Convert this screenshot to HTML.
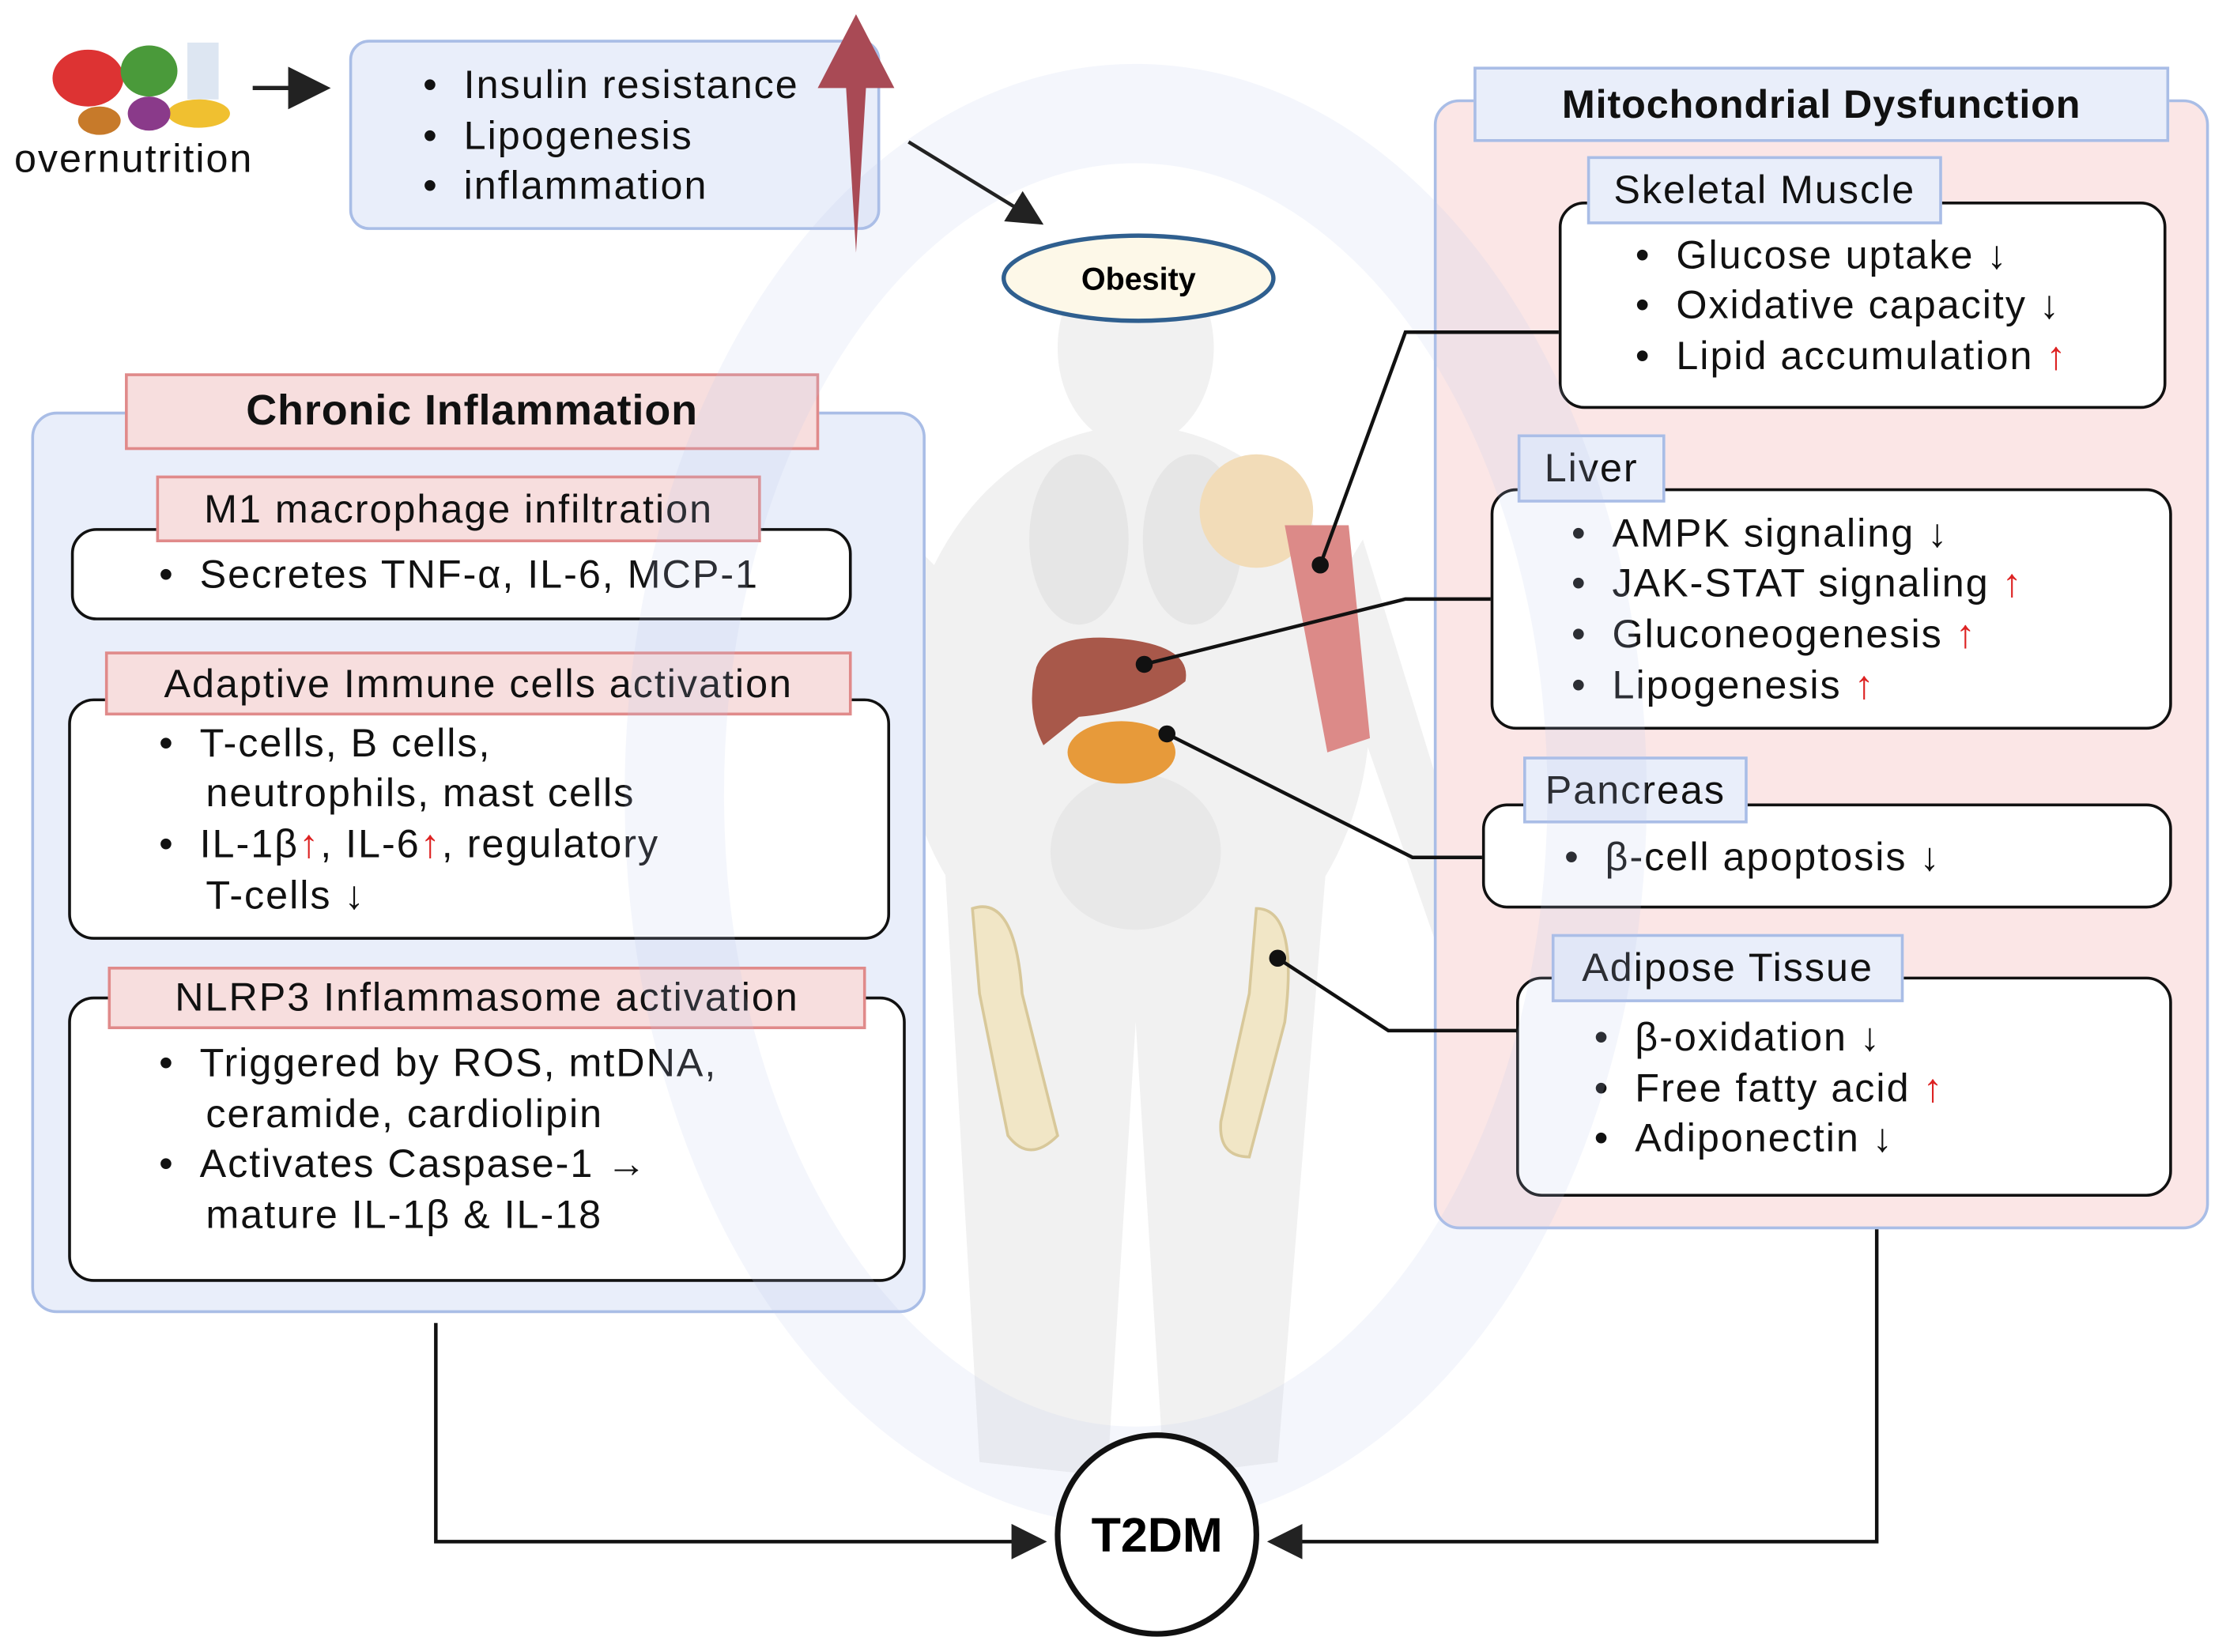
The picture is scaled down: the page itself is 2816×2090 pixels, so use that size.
<!DOCTYPE html>
<html><head><meta charset="utf-8"><style>
html,body{margin:0;padding:0;background:#fff;}
#wrap{width:1568px;height:1164px;position:relative;transform:scale(1.7959);transform-origin:0 0;font-family:"Liberation Sans",sans-serif;color:#111;}
.abs{position:absolute;box-sizing:border-box;}
.t{position:absolute;font-size:28px;white-space:nowrap;line-height:1;letter-spacing:1.1px;}
.r{color:#d22;}
.wb{position:absolute;box-sizing:border-box;background:#fff;border:2.5px solid #111;border-radius:18px;}
.pl{position:absolute;box-sizing:border-box;background:#f7dede;border:2.5px solid #e08a8a;font-size:28px;letter-spacing:1.1px;display:flex;align-items:center;justify-content:center;white-space:nowrap;}
.bl{position:absolute;box-sizing:border-box;background:#e9eefa;border:2.5px solid #a9bde6;font-size:28px;letter-spacing:1.1px;display:flex;align-items:center;justify-content:center;white-space:nowrap;}
</style></head><body><div id="wrap">
<svg class="abs" style="left:0;top:0" width="1568" height="1164">
<g fill="#f1f1f1">
<ellipse cx="800" cy="245" rx="55" ry="70"/>
<rect x="770" y="300" width="60" height="40"/>
<ellipse cx="800" cy="500" rx="165" ry="200"/>
<path d="M640,380 L600,620 L630,640 L680,420z"/>
<path d="M960,380 L1040,640 L1010,660 L930,430z"/>
<path d="M665,600 L690,1030 L780,1040 L800,720 L820,1040 L900,1030 L935,600z"/>
</g>
<ellipse cx="760" cy="380" rx="35" ry="60" fill="#e6e6e6"/><ellipse cx="840" cy="380" rx="35" ry="60" fill="#e6e6e6"/>
<ellipse cx="800" cy="600" rx="60" ry="55" fill="#e8e8e8"/>
<ellipse cx="885" cy="360" rx="40" ry="40" fill="#f2dcb8"/>
<path d="M905,370 L950,370 L965,520 L935,530z" fill="#dc8a88"/>
<path d="M730,470 Q740,445 790,450 Q840,455 835,480 Q810,500 760,505 L735,525 Q722,500 730,470z" fill="#a8584a"/>
<ellipse cx="790" cy="530" rx="38" ry="22" fill="#e79a3a"/>
<path d="M685,640 Q715,630 720,700 L745,800 Q725,820 710,800 L690,700z" fill="#f1e6c6" stroke="#d8c89a" stroke-width="2"/>
<path d="M885,640 Q915,640 905,720 L880,815 Q858,815 860,790 L880,700z" fill="#f1e6c6" stroke="#d8c89a" stroke-width="2"/>
<ellipse cx="62" cy="55" rx="25" ry="20" fill="#d33"/><ellipse cx="105" cy="50" rx="20" ry="18" fill="#4a9a3a"/>
<rect x="132" y="30" width="22" height="40" fill="#dde6f2"/><ellipse cx="70" cy="85" rx="15" ry="10" fill="#c77a2a"/>
<ellipse cx="140" cy="80" rx="22" ry="10" fill="#f0c030"/><ellipse cx="105" cy="80" rx="15" ry="12" fill="#8a3a8a"/>
</svg>
<div class="t" style="left:10px;top:98px;">overnutrition</div>
<div class="abs" style="left:246px;top:28px;width:374px;height:134px;background:#e9eefa;border:2.5px solid #a9bde6;border-radius:14px;"></div>
<div class="t" style="left:298px;top:46px;">•&nbsp;&nbsp;Insulin resistance</div>
<div class="t" style="left:298px;top:82px;">•&nbsp;&nbsp;Lipogenesis</div>
<div class="t" style="left:298px;top:117px;">•&nbsp;&nbsp;inflammation</div>

<div class="abs" style="left:22px;top:290px;width:630px;height:635px;background:#e9eefa;border:2.5px solid #a9bde6;border-radius:18px;"></div>
<div class="pl" style="left:88px;top:263px;width:489px;height:54px;font-weight:bold;font-size:30px;letter-spacing:0.5px;">Chronic Inflammation</div>
<div class="wb" style="left:50px;top:372px;width:550px;height:65px;"></div>
<div class="pl" style="left:110px;top:335px;width:426px;height:47px;">M1 macrophage infiltration</div>
<div class="t" style="left:112px;top:391px;">•&nbsp;&nbsp;Secretes TNF-α, IL-6, MCP-1</div>
<div class="wb" style="left:48px;top:492px;width:579px;height:170px;"></div>
<div class="pl" style="left:74px;top:459px;width:526px;height:45px;">Adaptive Immune cells activation</div>
<div class="t" style="left:112px;top:510px;">•&nbsp;&nbsp;T-cells, B cells,</div>
<div class="t" style="left:145px;top:545px;">neutrophils, mast cells</div>
<div class="t" style="left:112px;top:581px;">•&nbsp;&nbsp;IL-1β<span class="r">↑</span>, IL-6<span class="r">↑</span>, regulatory</div>
<div class="t" style="left:145px;top:617px;">T-cells ↓</div>
<div class="wb" style="left:48px;top:702px;width:590px;height:201px;"></div>
<div class="pl" style="left:76px;top:681px;width:534px;height:44px;">NLRP3 Inflammasome activation</div>
<div class="t" style="left:112px;top:735px;">•&nbsp;&nbsp;Triggered by ROS, mtDNA,</div>
<div class="t" style="left:145px;top:771px;">ceramide, cardiolipin</div>
<div class="t" style="left:112px;top:806px;">•&nbsp;&nbsp;Activates Caspase-1 →</div>
<div class="t" style="left:145px;top:842px;">mature IL-1β &amp; IL-18</div>

<div class="abs" style="left:1010px;top:70px;width:546px;height:796px;background:#fbe6e6;border:2.5px solid #a9bde6;border-radius:18px;"></div>
<div class="bl" style="left:1038px;top:47px;width:490px;height:53px;font-weight:bold;letter-spacing:0.5px;">Mitochondrial Dysfunction</div>
<div class="wb" style="left:1098px;top:142px;width:428px;height:146px;"></div>
<div class="bl" style="left:1118px;top:110px;width:250px;height:48px;">Skeletal Muscle</div>
<div class="t" style="left:1152px;top:166px;">•&nbsp;&nbsp;Glucose uptake ↓</div>
<div class="t" style="left:1152px;top:201px;">•&nbsp;&nbsp;Oxidative capacity ↓</div>
<div class="t" style="left:1152px;top:237px;">•&nbsp;&nbsp;Lipid accumulation <span class="r">↑</span></div>
<div class="wb" style="left:1050px;top:344px;width:480px;height:170px;"></div>
<div class="bl" style="left:1069px;top:306px;width:104px;height:48px;">Liver</div>
<div class="t" style="left:1107px;top:362px;">•&nbsp;&nbsp;AMPK signaling ↓</div>
<div class="t" style="left:1107px;top:397px;">•&nbsp;&nbsp;JAK-STAT signaling <span class="r">↑</span></div>
<div class="t" style="left:1107px;top:433px;">•&nbsp;&nbsp;Gluconeogenesis <span class="r">↑</span></div>
<div class="t" style="left:1107px;top:469px;">•&nbsp;&nbsp;Lipogenesis <span class="r">↑</span></div>
<div class="wb" style="left:1044px;top:566px;width:486px;height:74px;"></div>
<div class="bl" style="left:1073px;top:533px;width:158px;height:47px;">Pancreas</div>
<div class="t" style="left:1102px;top:590px;">•&nbsp;&nbsp;β-cell apoptosis ↓</div>
<div class="wb" style="left:1068px;top:688px;width:462px;height:155px;"></div>
<div class="bl" style="left:1093px;top:658px;width:248px;height:48px;">Adipose Tissue</div>
<div class="t" style="left:1123px;top:717px;">•&nbsp;&nbsp;β-oxidation ↓</div>
<div class="t" style="left:1123px;top:753px;">•&nbsp;&nbsp;Free fatty acid <span class="r">↑</span></div>
<div class="t" style="left:1123px;top:788px;">•&nbsp;&nbsp;Adiponectin ↓</div>

<svg class="abs" style="left:0;top:0" width="1568" height="1164">
<defs><marker id="ah" markerWidth="10" markerHeight="10" refX="9" refY="5" orient="auto"><path d="M0,0L10,5L0,10z" fill="#222"/></marker></defs>
<ellipse cx="800" cy="560" rx="325" ry="480" fill="none" stroke="#b8c8ea" stroke-width="70" opacity="0.16"/>
<path d="M603,10 L630,62 L610,62 L603,178 L596,62 L576,62z" fill="#a94a55"/>
<line x1="178" y1="62" x2="230" y2="62" stroke="#222" stroke-width="3" marker-end="url(#ah)"/>
<line x1="640" y1="100" x2="733" y2="157" stroke="#222" stroke-width="2.5" marker-end="url(#ah)"/>
<g stroke="#111" stroke-width="2.5" fill="none">
<polyline points="1098,234 990,234 930,398"/>
<polyline points="1050,422 990,422 806,468"/>
<polyline points="1044,604 995,604 822,517"/>
<polyline points="1068,726 978,726 900,675"/>
<polyline points="307,932 307,1086 735,1086" marker-end="url(#ah)"/>
<polyline points="1322,866 1322,1086 895,1086" marker-end="url(#ah)"/>
</g>
<g fill="#111"><circle cx="930" cy="398" r="6"/><circle cx="806" cy="468" r="6"/><circle cx="822" cy="517" r="6"/><circle cx="900" cy="675" r="6"/></g>
<ellipse cx="802" cy="196" rx="95" ry="30" fill="#fdf8e8" stroke="#2f5f8f" stroke-width="3"/>
<text x="802" y="204" font-size="22" font-weight="bold" text-anchor="middle" font-family="Liberation Sans">Obesity</text>
<circle cx="815" cy="1081" r="70" fill="#fff" stroke="#111" stroke-width="4"/>
<text x="815" y="1093" font-size="34" font-weight="bold" text-anchor="middle" font-family="Liberation Sans">T2DM</text>
</svg>
</div></body></html>
